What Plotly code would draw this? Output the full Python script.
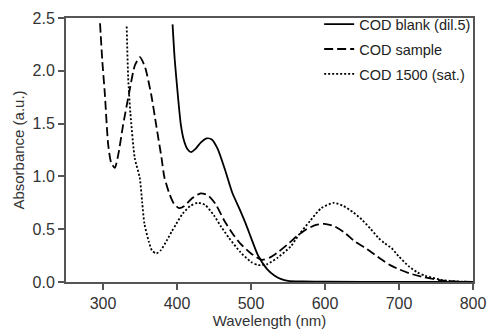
import plotly.graph_objects as go

# COD blank (dil.5)
blank_wl = [394, 397, 401, 405, 409, 414, 419, 425, 432, 440, 447, 455, 465, 475, 484, 493, 500, 509, 522, 532, 540, 550, 570, 600, 700, 800]
blank_abs = [2.44, 2.10, 1.78, 1.50, 1.35, 1.26, 1.23, 1.26, 1.32, 1.36, 1.35, 1.26, 1.06, 0.84, 0.70, 0.55, 0.42, 0.26, 0.12, 0.06, 0.03, 0.01, 0.005, 0.003, 0.001, 0.0]

# COD sample
sample_wl = [296, 299, 302.5, 307, 311, 316, 321, 327, 335, 343, 350, 357, 365, 372, 379, 383, 390, 396, 403, 410, 420, 432, 442, 452, 464, 475, 486, 500, 515, 525, 536, 550, 563, 575, 588, 599, 612, 626, 641, 655, 667, 677, 688, 700, 715, 731, 757, 780, 800]
sample_abs = [2.45, 2.10, 1.78, 1.30, 1.13, 1.08, 1.22, 1.48, 1.78, 2.05, 2.13, 2.03, 1.78, 1.48, 1.18, 0.99, 0.83, 0.74, 0.70, 0.72, 0.79, 0.84, 0.82, 0.74, 0.58, 0.46, 0.36, 0.27, 0.21, 0.23, 0.28, 0.36, 0.44, 0.50, 0.54, 0.55, 0.53, 0.47, 0.38, 0.32, 0.26, 0.21, 0.16, 0.12, 0.08, 0.05, 0.015, 0.004, 0.0]

# COD 1500 (sat.)
sat_wl = [332, 334, 337, 343, 349.6, 353, 356, 362, 366, 372, 378, 386, 393, 399, 408, 418, 428, 438, 450, 460, 470, 486, 500, 510, 522, 536, 554, 565, 580, 595, 612, 625, 638, 650, 662, 672, 680, 690, 700, 713, 725, 735, 757, 780, 800]
sat_abs = [2.42, 1.94, 1.60, 1.17, 0.99, 0.75, 0.55, 0.38, 0.30, 0.27, 0.30, 0.39, 0.48, 0.55, 0.65, 0.72, 0.75, 0.73, 0.63, 0.52, 0.42, 0.28, 0.19, 0.16, 0.17, 0.23, 0.34, 0.45, 0.58, 0.70, 0.75, 0.72, 0.66, 0.59, 0.50, 0.42, 0.37, 0.32, 0.24, 0.15, 0.09, 0.06, 0.02, 0.005, 0.0]

x_ticks = [300, 400, 500, 600, 700, 800]
y_ticks = [0.0, 0.5, 1.0, 1.5, 2.0, 2.5]

FONT = "Liberation Sans, Arial, Helvetica, sans-serif"

fig = go.Figure()
series = [
    (blank_wl, blank_abs, "COD blank (dil.5)", "solid"),
    (sample_wl, sample_abs, "COD sample", "9px,4px"),
    (sat_wl, sat_abs, "COD 1500 (sat.)", "2px,2px"),
]
for i, (x, y, name, dash) in enumerate(series):
    fig.add_trace(go.Scatter(
        x=x, y=y, name=name, mode="lines", legendgroup=f"g{i}",
        line=dict(color="black", width=1.8, dash=dash, shape="spline", smoothing=0.6),
    ))

axis_common = dict(
    showgrid=False, zeroline=False, showline=True, linecolor="#555", linewidth=2,
    mirror=True, ticks="outside", ticklen=6, tickwidth=2, tickcolor="#555",
    tickfont=dict(family=FONT, size=16, color="#333"),
    title_font=dict(family=FONT, size=15, color="#333"),
)
fig.update_xaxes(range=[250, 800], tickvals=x_ticks, title_text="Wavelength (nm)",
                 title_standoff=4, **axis_common)
fig.update_yaxes(range=[0, 2.5], tickvals=y_ticks, ticktext=[f"{v:.1f}" for v in y_ticks],
                 title_text="Absorbance (a.u.)", title_standoff=4, **axis_common)

fig.update_layout(
    width=494, height=336,
    margin=dict(l=66, r=18, t=8, b=54),
    paper_bgcolor="white", plot_bgcolor="white",
    showlegend=True,
    legend=dict(x=0.622, y=1.037, xanchor="left", yanchor="top", traceorder="grouped",
                tracegroupgap=3, bgcolor="rgba(0,0,0,0)",
                font=dict(family=FONT, size=14.5, color="#222")),
)
fig.write_html("out.html")
